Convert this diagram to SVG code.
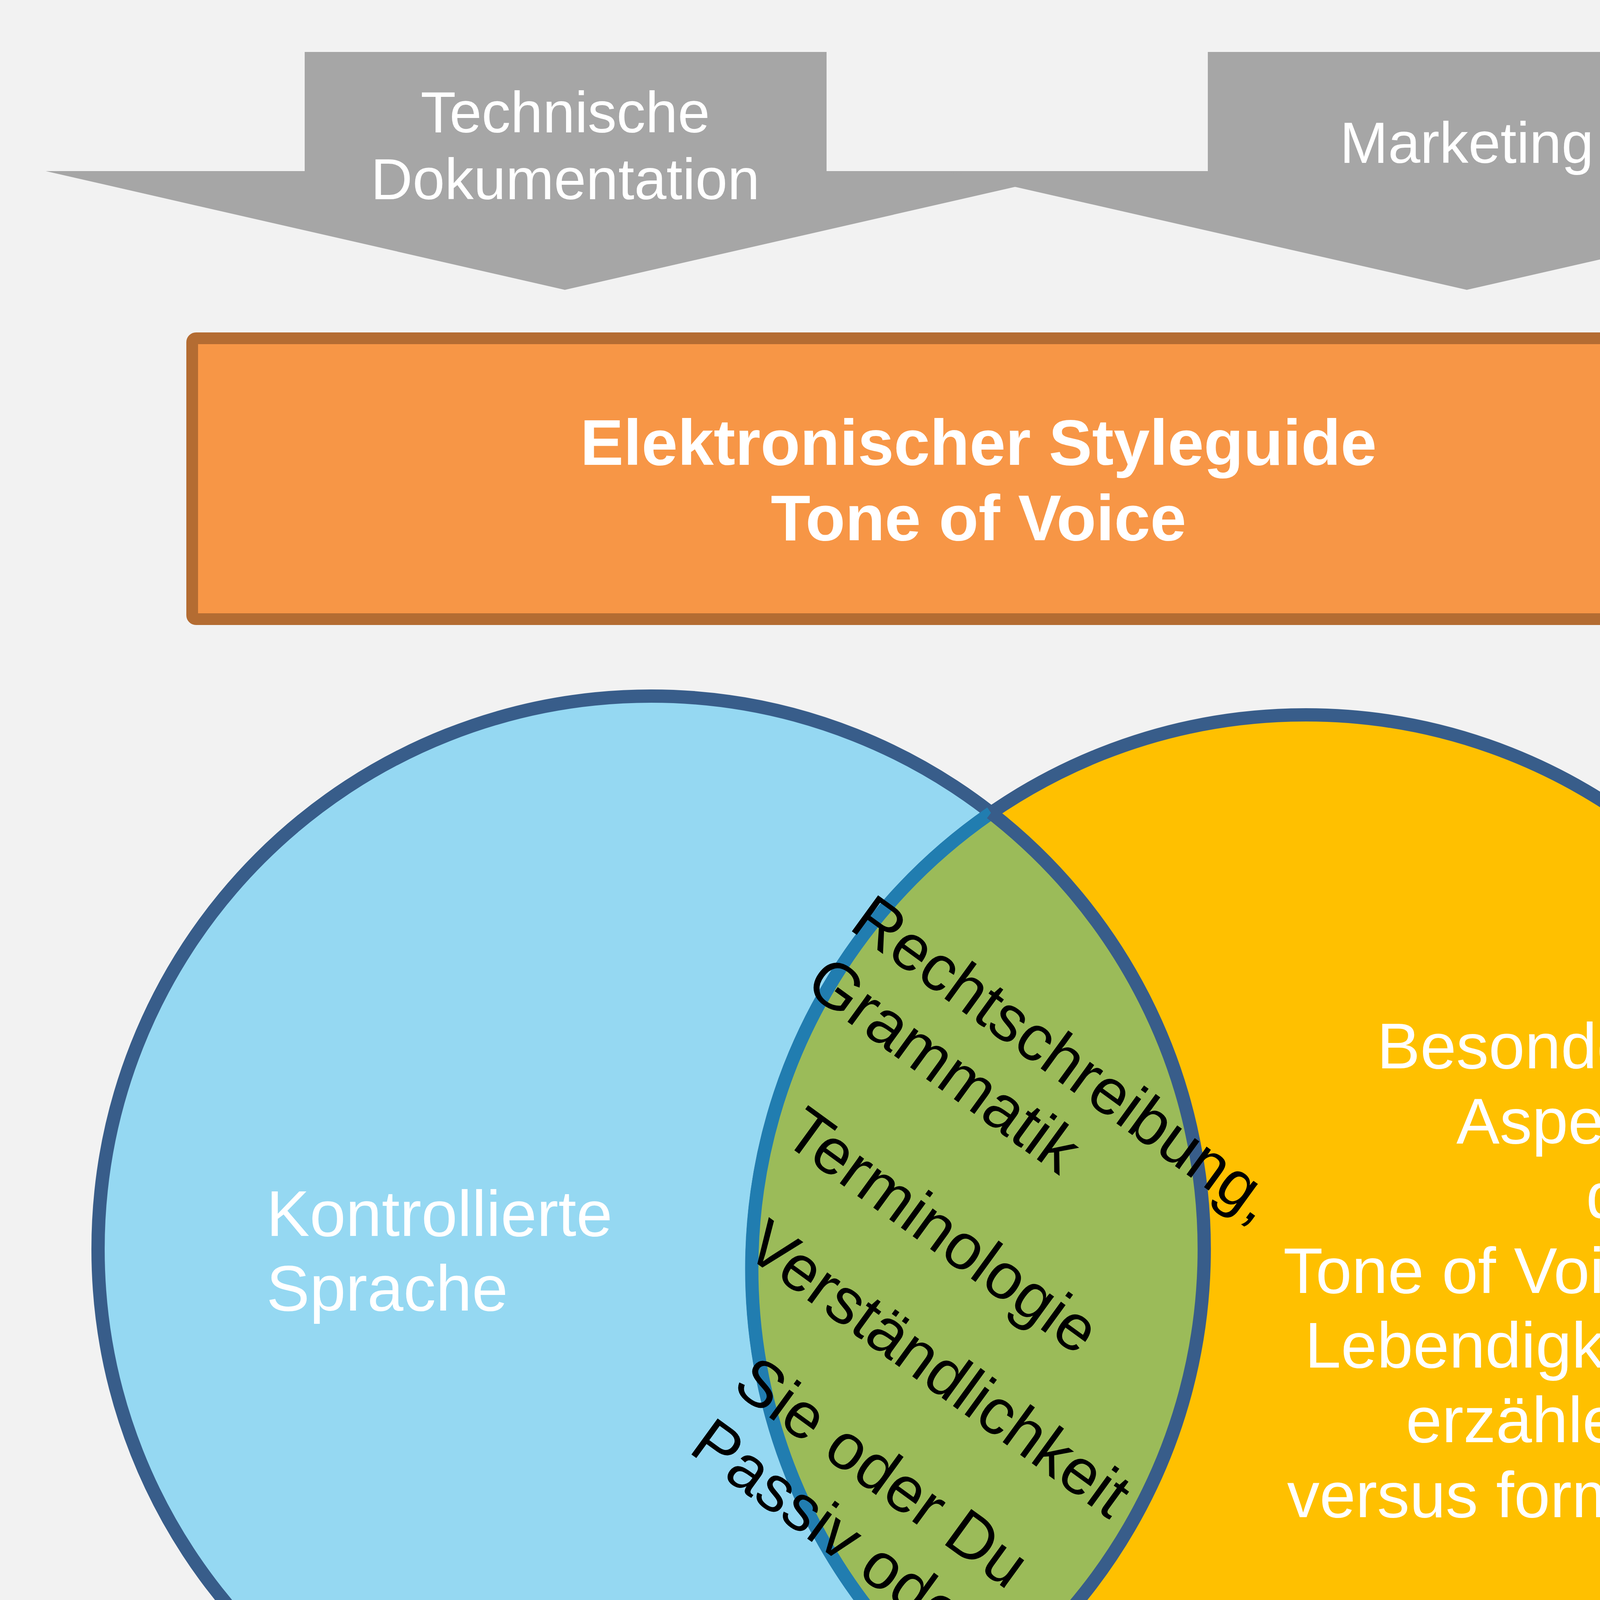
<svg xmlns="http://www.w3.org/2000/svg" width="5225" height="4813" viewBox="0 0 5225 4813">
<style>
.arrow{fill:#A6A6A6;stroke:none}
.wt{font-family:"Liberation Sans",Arial,sans-serif;fill:#FFFFFF}
.at{font-size:148px;text-anchor:middle}
.ct{font-size:166px}
.bt{font-size:166px;font-weight:bold;text-anchor:middle}
.lt{font-family:"Liberation Sans",Arial,sans-serif;font-size:166px;fill:#000000}
.circ{stroke:#385D8A;stroke-width:34}
</style>
<rect x="0" y="0" width="5225" height="4813" fill="#F2F2F2"/>
<g id="arrow-tech">
<polygon class="arrow" points="780,133 2116,133 2116,438 2775,438 1446,742 117,438 780,438"/>
<text class="wt at" x="1447" y="339">Technische</text>
<text class="wt at" x="1447" y="510">Dokumentation</text>
</g>
<g id="arrow-marketing">
<polygon class="arrow" points="3092,133 4425,133 4425,438 5088,438 3755,742 2422,438 3092,438"/>
<text class="wt at" x="3755" y="417">Marketing</text>
</g>
<g id="styleguide">
<rect x="492" y="866" width="4025" height="719" rx="10" fill="#F79646" stroke="#B46C32" stroke-width="30"/>
<text class="wt bt" x="2505" y="1190">Elektronischer Styleguide</text>
<text class="wt bt" x="2505" y="1383">Tone of Voice</text>
</g>
<g id="circle-left">
<circle class="circ" cx="1667" cy="3198" r="1416" fill="#95D8F2"/>
</g>
<g id="circle-right">
<circle class="circ" cx="3343" cy="3248" r="1418" fill="#FFC000"/>
</g>
<g id="overlap">
<path d="M2537,2081 A1418,1418 0 0 0 2469,4365 A1416,1416 0 0 0 2537,2081 Z" fill="#9BBB59"/>
<path d="M2537,2081 A1418,1418 0 0 0 2469,4365" fill="none" stroke="#217DB0" stroke-width="34"/>
<path d="M2469,4365 A1416,1416 0 0 0 2537,2081" fill="none" stroke="#385D8A" stroke-width="34"/>
</g>
<g id="text-left">
<text class="wt ct" x="682" y="3164">Kontrollierte</text>
<text class="wt ct" x="682" y="3355">Sprache</text>
</g>
<g id="text-right">
<text class="wt ct" text-anchor="end" x="4328" y="2735">Besondere</text>
<text class="wt ct" text-anchor="end" x="4328" y="2927">Aspekte</text>
<text class="wt ct" text-anchor="end" x="4328" y="3118">des</text>
<text class="wt ct" text-anchor="end" x="4328" y="3310">Tone of Voice:</text>
<text class="wt ct" text-anchor="end" x="4328" y="3501">Lebendigkeit,</text>
<text class="wt ct" text-anchor="end" x="4328" y="3692">erzählend</text>
<text class="wt ct" text-anchor="end" x="4328" y="3884">versus formell</text>
</g>
<g id="text-overlap" transform="rotate(36)">
<text class="lt" x="3152" y="647">Rechtschreibung,</text>
<text class="lt" x="3152" y="841">Grammatik</text>
<text class="lt" x="3333" y="1187">Terminologie</text>
<text class="lt" x="3423" y="1478">Verständlichkeit</text>
<text class="lt" x="3604" y="1778">Sie oder Du</text>
<text class="lt" x="3607" y="1972">Passiv oder Aktiv</text>
</g>
</svg>
